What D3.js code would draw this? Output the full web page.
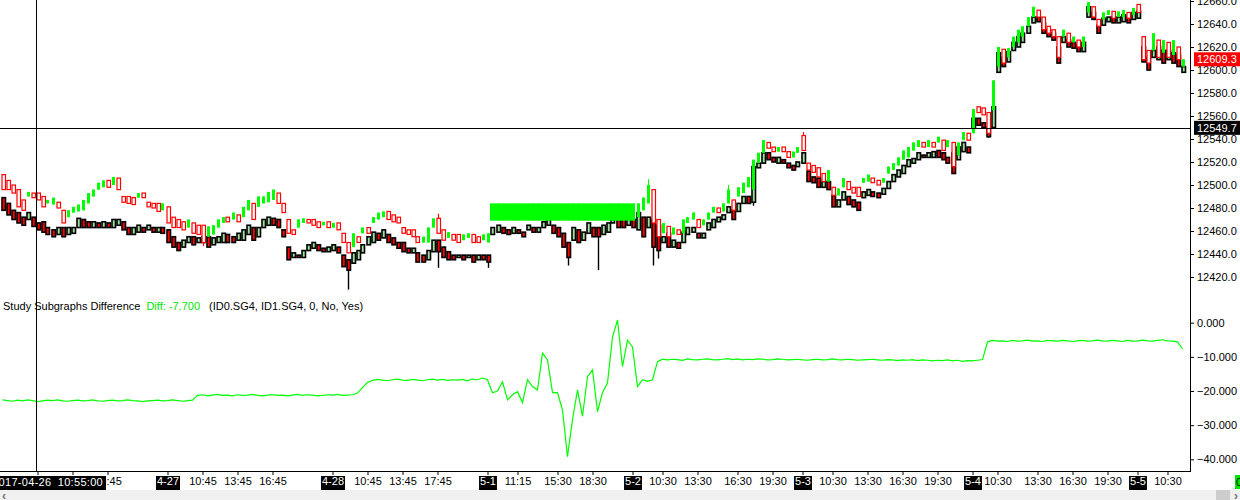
<!DOCTYPE html>
<html><head><meta charset="utf-8">
<script src="https://cdn.jsdelivr.net/npm/d3@7/dist/d3.min.js"></script>
<style>
body{margin:0;background:#fff;overflow:hidden}
text{font-family:"Liberation Sans",Arial,sans-serif;}
</style>
</head><body><svg id="c" width="1240" height="500"></svg>
<script>
// ---------- DATA ----------
const id0Open=[
12509,12504,12500,12496,12487,12490,12493,12493,12490,12484,
12483,12485,12478,12472,12476,12477,12478,12484,12490,12496,
12498,12504,12500,12506,12490,12490,12489,12489,12493,12485,
12484,12484,12478,12481,12472,12470,12468,12463,12467,12465,
12465,12455,12457,12463,12467,12472,12470,12474,12472,12478,
12484,12481,12484,12485,12487,12493,12484,12470,12461,12463,
12467,12470,12470,12468,12465,12468,12463,12467,12458,12450,
12446,12455,12458,12463,12467,12470,12472,12477,12474,12472,
12463,12461,12461,12455,12450,12450,12463,12471,12461,12454,
12457,12457,12452,12454,12457,12455,12452,12450,12469,12469,
12469,12469,12469,12469,12469,12469,12469,12469,12469,12469,
12469,12469,12469,12469,12469,12469,12469,12469,12469,12469,
12469,12469,12469,12469,12469,12469,12469,12472,12478,12484,
12496,12470,12458,12464,12457,12461,12458,12467,12470,12470,
12465,12470,12476,12480,12477,12484,12487,12490,12493,12498,
12496,12519,12528,12537,12533,12529,12533,12529,12524,12528,
12543,12519,12517,12515,12510,12503,12498,12491,12498,12503,
12498,12498,12502,12503,12506,12504,12502,12510,12513,12517,
12522,12524,12530,12533,12537,12533,12537,12537,12539,12533,
12537,12526,12539,12545,12545,12568,12567,12563,12565,12603,
12618,12611,12620,12624,12629,12638,12646,12652,12646,12638,
12635,12629,12629,12632,12624,12626,12620,12650,12655,12644,
12644,12648,12651,12646,12646,12650,12648,12657,12629,12617,
12617,12626,12615,12624,12613,12620,12603];
const id0Close=[
12496,12496,12493,12481,12478,12494,12489,12487,12481,12487,
12489,12480,12467,12478,12481,12483,12487,12493,12496,12502,
12504,12498,12507,12496,12485,12484,12483,12493,12489,12481,
12480,12477,12484,12467,12463,12463,12461,12470,12458,12457,
12450,12464,12465,12470,12472,12468,12476,12468,12481,12487,
12470,12490,12490,12494,12496,12484,12476,12458,12457,12470,
12471,12467,12465,12463,12468,12463,12467,12461,12450,12441,
12458,12450,12463,12458,12472,12476,12477,12470,12468,12467,
12458,12457,12455,12450,12455,12463,12471,12458,12452,12459,
12452,12450,12457,12458,12450,12450,12457,12458,12484,12484,
12484,12484,12484,12484,12484,12484,12484,12484,12484,12484,
12484,12484,12484,12484,12484,12484,12484,12484,12484,12484,
12484,12484,12484,12484,12484,12484,12484,12484,12489,12500,
12467,12455,12467,12455,12463,12457,12470,12472,12476,12463,
12470,12476,12481,12476,12484,12496,12478,12498,12502,12507,
12522,12528,12539,12532,12529,12533,12529,12524,12529,12533,
12530,12513,12511,12507,12503,12513,12491,12497,12506,12496,
12493,12490,12506,12509,12502,12500,12506,12516,12519,12524,
12530,12533,12537,12539,12533,12539,12533,12542,12530,12539,
12516,12537,12546,12539,12566,12563,12561,12545,12591,12620,
12606,12619,12629,12635,12638,12646,12655,12646,12635,12632,
12629,12611,12635,12624,12629,12620,12629,12659,12646,12638,
12650,12652,12645,12651,12652,12645,12654,12650,12609,12606,
12632,12611,12626,12611,12626,12609,12609.3];
const id1Open=[
12489,12484,12478,12476,12472,12470,12472,12467,12468,12463,
12461,12457,12463,12457,12458,12463,12470,12468,12463,12467,
12463,12467,12463,12465,12468,12463,12457,12459,12463,12461,
12463,12459,12463,12461,12455,12450,12446,12450,12455,12450,
12450,12455,12448,12450,12450,12457,12455,12452,12452,12457,
12463,12455,12463,12465,12471,12470,12461,12446,12437,12439,
12437,12443,12445,12448,12445,12442,12443,12446,12439,12435,
12432,12435,12441,12448,12450,12458,12454,12457,12454,12450,
12450,12445,12441,12441,12439,12435,12442,12452,12446,12442,
12439,12437,12439,12437,12439,12435,12439,12439,12457,12459,
12463,12461,12458,12461,12459,12461,12463,12459,12463,12465,
12465,12463,12458,12450,12452,12461,12452,12458,12463,12463,
12457,12459,12467,12472,12470,12465,12470,12461,12472,12463,
12470,12465,12450,12458,12446,12450,12450,12457,12459,12458,
12454,12461,12463,12468,12470,12476,12478,12477,12484,12490,
12485,12515,12519,12528,12524,12519,12522,12519,12517,12516,
12519,12512,12507,12506,12498,12503,12491,12481,12487,12490,
12487,12485,12489,12491,12494,12493,12492,12497,12503,12507,
12510,12516,12519,12522,12526,12524,12524,12530,12528,12524,
12528,12522,12529,12533,12550,12558,12554,12550,12550,12598,
12611,12607,12617,12620,12624,12632,12641,12646,12641,12635,
12632,12620,12624,12626,12624,12622,12616,12646,12650,12639,
12639,12642,12646,12641,12642,12646,12644,12645,12620,12611,
12611,12609,12617,12609,12615,12613,12598];
const id1Close=[
12478,12474,12470,12467,12465,12476,12464,12461,12459,12457,
12455,12463,12455,12463,12463,12471,12463,12463,12468,12463,
12468,12463,12470,12470,12461,12457,12463,12465,12459,12465,
12459,12463,12458,12450,12446,12443,12452,12455,12448,12454,
12455,12446,12454,12455,12458,12450,12450,12458,12461,12465,
12452,12463,12470,12472,12465,12463,12455,12435,12441,12437,
12443,12448,12450,12443,12442,12446,12448,12441,12429,12426,
12441,12443,12448,12455,12459,12452,12461,12450,12448,12445,
12442,12441,12445,12433,12433,12443,12452,12442,12437,12435,
12435,12439,12435,12439,12433,12439,12435,12433,12463,12465,
12458,12457,12463,12458,12455,12465,12459,12463,12468,12470,
12458,12455,12446,12437,12463,12450,12459,12467,12455,12455,
12465,12467,12470,12463,12463,12471,12463,12476,12455,12472,
12446,12443,12455,12446,12452,12445,12459,12463,12463,12454,
12458,12467,12470,12472,12474,12481,12470,12484,12490,12484,
12516,12519,12528,12522,12520,12524,12519,12515,12513,12520,
12528,12503,12502,12498,12503,12496,12481,12487,12494,12483,
12481,12478,12494,12496,12490,12489,12497,12503,12509,12513,
12517,12522,12523,12528,12524,12528,12529,12524,12522,12519,
12510,12533,12537,12528,12558,12552,12550,12542,12568,12615,
12603,12616,12624,12629,12632,12638,12646,12642,12632,12629,
12626,12606,12629,12620,12619,12616,12624,12655,12644,12632,
12645,12646,12641,12646,12648,12641,12650,12651,12607,12600,
12617,12620,12606,12617,12606,12603,12603];
// extra wick extremes: [bar, price]
const id0Wicks=[[40,12447],[87,12475],[129,12505],[145,12500],[160,12546]];
const id1Wicks=[[69,12409],[87,12428],[97,12428],[113,12430],[119,12426],[130,12430],[131,12436],[150,12482],[197,12541]];
const diffValues=[
-22.6,-22.8,-23.0,-22.7,-22.9,-22.6,-22.8,-23.1,-22.9,-22.7,
-22.8,-22.6,-22.9,-23.0,-22.8,-22.7,-22.9,-22.8,-22.6,-22.9,
-23.0,-22.8,-22.7,-22.9,-22.8,-22.6,-22.8,-22.9,-23.1,-22.9,
-22.8,-22.7,-22.9,-22.8,-22.6,-22.8,-23.0,-22.8,-22.7,
-21.3,-21.1,-21.4,-21.2,-21.0,-21.3,-21.2,-21.4,-21.1,-21.3,
-21.2,-21.0,-21.3,-21.4,-21.2,-21.1,-21.3,-21.2,-21.4,-21.2,
-21.0,-21.3,-21.1,-21.2,-21.4,-21.3,-21.1,-21.2,-21.0,-21.3,
-21.2,-21.1,-20.6,
-19.0,-17.5,
-16.9,-16.6,-16.8,-17.0,-16.7,-16.5,-16.8,-16.9,-16.6,-16.8,
-17.0,-16.7,-16.5,-16.8,-16.6,-16.9,-16.7,-16.8,
-16.6,-17.0,-16.5,-16.7,-16.2,-16.7,
-20.5,-20.0,-17.3,-22.6,-21.1,-20.2,-23.4,-16.7,-18.7,-19.7,
-8.9,-10.9,-20.5,-20.5,-25.5,-39.2,-28.4,-19.7,-27.4,-15.8,
-13.8,-26.0,-20.5,-17.6,-4.2,0.8,-12.9,-5.1,-7.1,-18.7,
-16.7,-17.2,-16.7,-11.4,-10.7,
-10.9,-10.7,-10.8,-11.0,-10.6,-10.8,-10.9,-10.7,-10.6,-10.8,
-10.9,-10.7,-10.5,-10.8,-10.6,-10.9,-10.7,-10.8,-10.6,-10.7,
-10.9,-10.8,-10.6,-10.7,-10.9,-10.8,-10.7,-10.9,-11.0,-10.8,
-10.7,-10.9,-10.8,-10.6,-10.8,-10.9,-10.7,-10.8,-11.0,-10.9,
-10.8,-10.7,-10.9,-11.0,-10.8,-10.9,-11.1,-10.9,-11.0,-10.8,
-11.1,-10.9,-11.0,-11.2,-11.0,-11.1,-10.9,-11.2,-11.0,-11.3,
-11.1,-11.2,-11.0,-10.8,
-5.6,
-5.2,-5.4,-5.3,-5.5,-5.2,-5.4,-5.3,-5.1,-5.4,-5.3,
-5.5,-5.2,-5.3,-5.4,-5.2,-5.3,-5.5,-5.3,-5.2,-5.4,
-5.3,-5.1,-5.3,-5.4,-5.2,-5.3,-5.5,-5.2,-5.4,-5.3,
-5.1,-5.3,-5.4,-5.2,-5.0,-5.3,-5.4,-5.6,
-7.7];
// labels of the first two 4-26 ticks are hidden under the crosshair time box in the reference
const tickBars=[7,14,21,33,40,47,54,66,73,80,87,97,103,111,118,126,132,139,147,154,160,166,173,180,187,194,199,207,214,221,227,233];
const tickLabels=["","","16:45","4-27","10:45","13:45","16:45","4-28","10:45","13:45","17:45","5-1","11:15","15:30","18:30","5-2","10:30","13:30","16:30","19:30","5-3","10:30","13:30","16:30","19:30","5-4","10:30","13:30","16:30","19:30","5-5","10:30"];
const priceTicks=[12420,12440,12460,12480,12500,12520,12540,12560,12580,12600,12620,12640,12660];
const diffTicks=[0,-10,-20,-30,-40];
const lastPrice=12609.3, crosshairPrice=12549.7, crosshairBar=7, crosshairLabel="2017-04-26 10:55:00";
const legendName="Study Subgraphs Difference", legendValue="Diff: -7.700", legendArgs="(ID0.SG4, ID1.SG4, 0, No, Yes)";

// ---------- CHART ----------
(function(){
const svg=d3.select("#c");
const W=1240,plotR=1190,axisY=471,topBottom=295;
const N=id0Open.length;
const x=d3.scaleLinear().domain([-0.5,237.5]).range([0,plotR]);
const step=x(1)-x(0);
const yP=d3.scaleLinear().domain([12420,12640]).range([277,24]);
const yD=d3.scaleLinear().domain([0,-40]).range([322.7,459.3]);

const defs=svg.append("defs");
defs.append("clipPath").attr("id","cpTop").append("rect").attr("x",0).attr("y",0).attr("width",plotR).attr("height",topBottom);
defs.append("clipPath").attr("id","cpBot").append("rect").attr("x",0).attr("y",topBottom).attr("width",plotR).attr("height",axisY-topBottom);

const id0=d3.range(N).map(i=>({i,o:id0Open[i],c:id0Close[i],h:Math.max(id0Open[i],id0Close[i]),l:Math.min(id0Open[i],id0Close[i])}));
const id1=d3.range(N).map(i=>({i,o:id1Open[i],c:id1Close[i],h:Math.max(id1Open[i],id1Close[i]),l:Math.min(id1Open[i],id1Close[i])}));
id0Wicks.forEach(([i,p])=>{id0[i].h=Math.max(id0[i].h,p);id0[i].l=Math.min(id0[i].l,p);});
id1Wicks.forEach(([i,p])=>{id1[i].h=Math.max(id1[i].h,p);id1[i].l=Math.min(id1[i].l,p);});

const topG=svg.append("g").attr("clip-path","url(#cpTop)");
const bodyTop=d=>yP(Math.max(d.o,d.c));
const bodyH=d=>Math.max(1,yP(Math.min(d.o,d.c))-yP(Math.max(d.o,d.c)));

// ID1 (black outlined) candles
const g1=topG.append("g");
g1.selectAll("line").data(id1).join("line")
  .attr("x1",d=>Math.round(x(d.i))+0.5).attr("x2",d=>Math.round(x(d.i))+0.5)
  .attr("y1",d=>yP(d.h)).attr("y2",d=>yP(d.l)).attr("stroke","#000").attr("stroke-width",1.4);
g1.selectAll("rect").data(id1).join("rect")
  .attr("x",d=>Math.round(x(d.i))-1).attr("width",3.5)
  .attr("y",bodyTop).attr("height",bodyH)
  .attr("fill",d=>d.c>=d.o?"#9fe09f":"#ff0000").attr("stroke","#000").attr("stroke-width",1.6);

// ID0 (green / red) candles
const same=(a,b)=>a&&b&&a.o===b.o&&a.c===b.c;
const isFull=d=>same(d,id0[d.i-1])||same(d,id0[d.i+1]);
const g0=topG.append("g");
g0.selectAll("line").data(id0).join("line")
  .attr("x1",d=>Math.round(x(d.i))+0.5).attr("x2",d=>Math.round(x(d.i))+0.5)
  .attr("y1",d=>yP(d.h)).attr("y2",d=>yP(d.l))
  .attr("stroke",d=>d.c>=d.o?"#00ff00":"#ff0000").attr("stroke-width",1.2);
g0.selectAll("rect").data(id0).join("rect")
  .attr("x",d=>isFull(d)?x(d.i)-step/2:(d.c>=d.o?Math.round(x(d.i))-1:Math.round(x(d.i))-1))
  .attr("width",d=>isFull(d)?step:(d.c>=d.o?3:3.5))
  .attr("y",bodyTop).attr("height",bodyH)
  .attr("fill",d=>d.c>=d.o?"#00ff00":"#ffffff")
  .attr("stroke",d=>d.c>=d.o?"none":"#ff0000").attr("stroke-width",1.2);

// crosshair horizontal
svg.append("line").attr("x1",0).attr("x2",plotR).attr("y1",Math.round(yP(crosshairPrice))+0.5).attr("y2",Math.round(yP(crosshairPrice))+0.5).attr("stroke","#000");

// difference line
const botG=svg.append("g").attr("clip-path","url(#cpBot)");
botG.append("path").datum(diffValues)
  .attr("d",d3.line().x((d,i)=>x(i)).y(d=>yD(d)))
  .attr("fill","none").attr("stroke","#00ff00").attr("stroke-width",1.2);

// legend
const lg=svg.append("text").attr("x",3).attr("y",310).attr("font-size","11px").attr("fill","#000");
lg.append("tspan").text(legendName);
lg.append("tspan").attr("dx",6).attr("fill","#00e600").text(legendValue);
lg.append("tspan").attr("dx",9).text(legendArgs);

// crosshair vertical
svg.append("line").attr("x1",Math.round(x(crosshairBar))-1.5).attr("x2",Math.round(x(crosshairBar))-1.5).attr("y1",0).attr("y2",axisY).attr("stroke","#000");

// right axes
const ra=svg.append("g").attr("transform",`translate(${plotR},0)`)
  .call(d3.axisRight(yP).tickValues(priceTicks).tickSize(4).tickFormat(d3.format(".1f")));
const rb=svg.append("g").attr("transform",`translate(${plotR},0)`)
  .call(d3.axisRight(yD).tickValues(diffTicks).tickSize(4).tickFormat(d3.format(".3f")));
[ra,rb].forEach(g=>{g.select(".domain").remove();g.selectAll("text").attr("font-size","11px").attr("font-family","Liberation Sans, Arial, sans-serif").attr("fill","#000");g.selectAll("line").attr("stroke","#000");});
svg.append("line").attr("x1",plotR+0.5).attr("x2",plotR+0.5).attr("y1",0).attr("y2",axisY+1).attr("stroke","#000");

// price boxes
function priceBox(v,fill){
  const yy=yP(v);
  svg.append("rect").attr("x",plotR+4).attr("y",yy-7).attr("width",W-plotR-4).attr("height",14).attr("fill",fill);
  svg.append("text").attr("x",plotR+7).attr("y",yy+4).attr("font-size","11px").attr("fill","#fff").text(d3.format(".1f")(v));
}
priceBox(lastPrice,"#ff0000");
priceBox(crosshairPrice,"#000000");

// bottom axis
const ba=svg.append("g").attr("transform",`translate(0,${axisY})`)
  .call(d3.axisBottom(x).tickValues(tickBars).tickSize(4).tickFormat((d,i)=>tickLabels[i]));
ba.select(".domain").remove();
ba.selectAll("line").attr("stroke","#000");
ba.selectAll("text").attr("font-size","11px").attr("font-family","Liberation Sans, Arial, sans-serif").attr("fill","#000").attr("y",6);
ba.selectAll(".tick").each(function(d,i){
  if(tickLabels[i].includes("-")){
    const t=d3.select(this).select("text");
    const bb=t.node().getBBox();
    d3.select(this).insert("rect","text").attr("x",bb.x-1).attr("y",5).attr("width",bb.width+2).attr("height",14).attr("fill","#000");
    t.attr("fill","#fff");
  }
});
svg.append("line").attr("x1",0).attr("x2",plotR).attr("y1",axisY+0.5).attr("y2",axisY+0.5).attr("stroke","#000");

// crosshair time label (box ends just right of the crosshair, as in the reference)
const lblG=svg.append("g");
const cbr=lblG.append("rect");
const ct=lblG.append("text").attr("x",103).attr("y",axisY+15).attr("text-anchor","end").attr("font-size","11px").attr("word-spacing","3px").attr("letter-spacing","0.3px").attr("fill","#fff").text(crosshairLabel);
const cb=ct.node().getBBox();
cbr.attr("x",cb.x-3).attr("y",axisY+5).attr("width",cb.width+6).attr("height",14).attr("fill","#000");

// green value box bottom right
svg.append("rect").attr("x",1235).attr("y",axisY+4).attr("width",6).attr("height",14).attr("fill","#00e600");
svg.append("text").attr("x",1236).attr("y",axisY+15).attr("font-size","11px").attr("fill","#000").text("0");

// scroll bar
svg.append("rect").attr("x",0).attr("y",490).attr("width",W).attr("height",10).attr("fill","#f0f0f0");
svg.append("rect").attr("x",1216).attr("y",490).attr("width",14).attr("height",10).attr("fill","#cdcdcd");
svg.append("text").attr("x",2).attr("y",500).attr("font-size","12px").attr("font-weight","bold").attr("fill","#707070").text("‹");
svg.append("text").attr("x",1234).attr("y",500).attr("font-size","12px").attr("font-weight","bold").attr("fill","#707070").text("›");
})();
</script>
</body></html>
